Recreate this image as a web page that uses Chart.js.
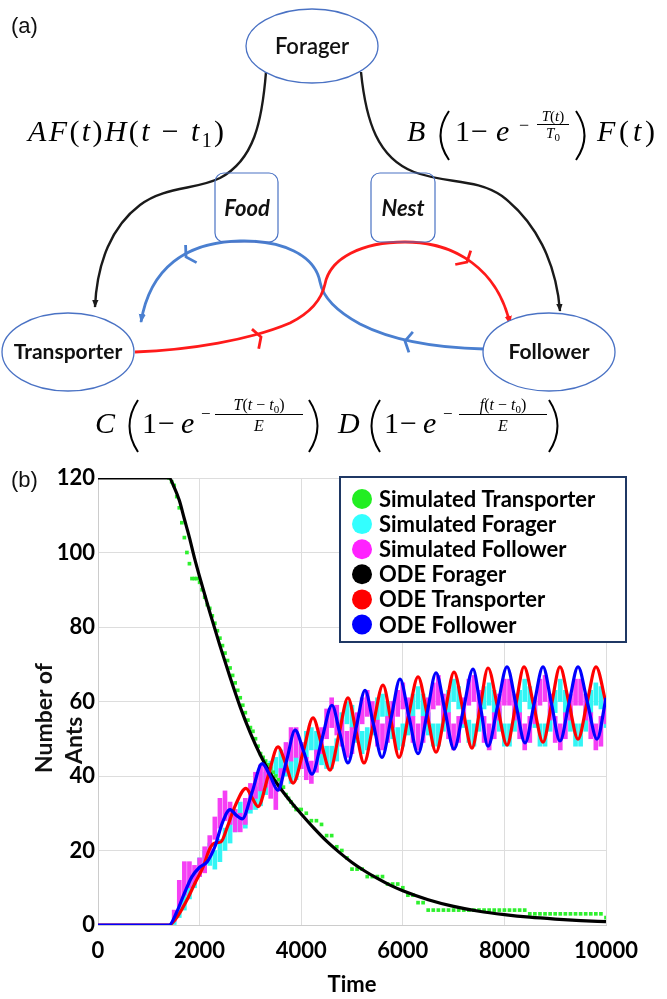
<!DOCTYPE html>
<html>
<head>
<meta charset="utf-8">
<title>Ant task model</title>
<script src="https://cdn.jsdelivr.net/npm/chart.js@4.4.1/dist/chart.umd.min.js"></script>
<style>
  html, body { margin: 0; padding: 0; background: #fff; }
  #page { position: relative; width: 667px; height: 999px; overflow: hidden; }
  #antChart { position: absolute; left: 0; top: 0; }
  #overlay { position: absolute; left: 0; top: 0; pointer-events: none; }
  .math { font-family: "Liberation Serif", "DejaVu Serif", serif; fill: #000; }
  .node { font-family: Lato, "Open Sans", sans-serif; fill: #111; }
  .lbl { font-family: Arial, "Liberation Sans", sans-serif; fill: #111; }
</style>
</head>
<body>
<div id="page">
<canvas id="antChart" width="667" height="999"></canvas>
<svg id="overlay" width="667" height="999" viewBox="0 0 667 999">
  <defs>
    <marker id="headK" viewBox="0 0 10 10" refX="9" refY="5" markerWidth="8" markerHeight="8" markerUnits="userSpaceOnUse" orient="auto"><path d="M0,1 L10,5 L0,9 z" fill="#1a1a1a"/></marker>
    <marker id="headB" viewBox="0 0 10 10" refX="9" refY="5" markerWidth="9" markerHeight="9" markerUnits="userSpaceOnUse" orient="auto"><path d="M0,1 L10,5 L0,9 z" fill="#4a7fd0"/></marker>
    <marker id="headR" viewBox="0 0 10 10" refX="9" refY="5" markerWidth="9" markerHeight="9" markerUnits="userSpaceOnUse" orient="auto"><path d="M0,1 L10,5 L0,9 z" fill="#ff1a1a"/></marker>
  </defs>

  <text class="lbl" x="11" y="33" font-size="22">(a)</text>
  <text class="lbl" x="11" y="487" font-size="22">(b)</text>

  <!-- transitions out of Forager -->
  <path d="M266,72 C262,122 254,160 220,178 C196,190 165,186 140,205 C112,226 97,262 95,307" fill="none" stroke="#1a1a1a" stroke-width="2.4" marker-end="url(#headK)"/>
  <path d="M361,72 C366,122 378,158 414,172 C446,184 476,178 502,196 C536,222 556,262 560,311" fill="none" stroke="#1a1a1a" stroke-width="2.4" marker-end="url(#headK)"/>

  <!-- Follower -> Transporter (blue), Transporter -> Follower (red) -->
  <path d="M484,349 C440,348 395,342 360,324 C338,312 323,298 320,282 C315,255 282,240 240,241 C186,242 150,268 141,322" fill="none" stroke="#4a7fd0" stroke-width="2.8" marker-end="url(#headB)"/>
  <path d="M135,352 C190,350 250,340 290,323 C312,312 322,298 325,284 C330,258 362,242 405,242 C456,242 498,270 510,324" fill="none" stroke="#ff1a1a" stroke-width="2.8" marker-end="url(#headR)"/>
  <g id="chevrons" fill="none" stroke-width="2.8"></g>

  <rect x="215" y="173" width="63" height="69" rx="9" fill="none" stroke="#4a72c4" stroke-width="1.2"/>
  <rect x="371" y="173" width="64" height="69" rx="9" fill="none" stroke="#4a72c4" stroke-width="1.2"/>
  <text class="node" x="247" y="216" text-anchor="middle" font-style="italic" font-weight="bold" font-size="22">Food</text>
  <text class="node" x="403" y="216" text-anchor="middle" font-style="italic" font-weight="bold" font-size="22">Nest</text>

  <ellipse cx="312" cy="46" rx="66" ry="37" fill="#fff" stroke="#4a72c4" stroke-width="1.3"/>
  <text class="node" x="312" y="54" text-anchor="middle" font-size="22" font-weight="600">Forager</text>
  <ellipse cx="68" cy="352" rx="66" ry="39" fill="#fff" stroke="#4a72c4" stroke-width="1.3"/>
  <text class="node" x="68" y="359" text-anchor="middle" font-weight="bold" font-size="21">Transporter</text>
  <ellipse cx="549" cy="352" rx="66" ry="39" fill="#fff" stroke="#4a72c4" stroke-width="1.3"/>
  <text class="node" x="549" y="359" text-anchor="middle" font-weight="bold" font-size="21">Follower</text>

  <!-- rate expressions -->
  <text class="math" x="28" y="141" font-size="30" textLength="196" lengthAdjust="spacing"><tspan font-style="italic">AF</tspan>(<tspan font-style="italic">t</tspan>)<tspan font-style="italic">H</tspan>(<tspan font-style="italic">t</tspan> − <tspan font-style="italic">t</tspan><tspan font-size="20" dy="6">1</tspan><tspan dy="-6">)</tspan></text>

  <g fill="none" stroke="#000" stroke-width="2">
    <path d="M449,111 Q432,135.5 449,160"/>
    <path d="M576,111 Q593,135.5 576,160"/>
    <path d="M138,400 Q121,426 138,452"/>
    <path d="M309,400 Q326,426 309,452"/>
    <path d="M380,400 Q363,426 380,452"/>
    <path d="M549,400 Q566,426 549,452"/>
  </g>
  <g stroke="#000" stroke-width="1">
    <line x1="537" y1="124.5" x2="569" y2="124.5"/>
    <line x1="215" y1="414.5" x2="303" y2="414.5"/>
    <line x1="459" y1="414.5" x2="547" y2="414.5"/>
  </g>

  <text class="math" x="407" y="141" font-size="30" font-style="italic">B</text>
  <text class="math" x="455" y="141" font-size="30">1</text>
  <text class="math" x="471" y="141" font-size="30">−</text>
  <text class="math" x="496" y="141" font-size="30" font-style="italic">e</text>
  <text class="math" x="519" y="131" font-size="18">−</text>
  <text class="math" x="553" y="121" font-size="15" text-anchor="middle"><tspan font-style="italic">T</tspan>(<tspan font-style="italic">t</tspan>)</text>
  <text class="math" x="553" y="138" font-size="15" text-anchor="middle"><tspan font-style="italic">T</tspan><tspan font-size="11" dy="3">0</tspan></text>
  <text class="math" x="597" y="141" font-size="30" textLength="58" lengthAdjust="spacing"><tspan font-style="italic">F</tspan>(<tspan font-style="italic">t</tspan>)</text>

  <text class="math" x="95" y="433" font-size="30" font-style="italic">C</text>
  <text class="math" x="142" y="433" font-size="30">1</text>
  <text class="math" x="158" y="433" font-size="30">−</text>
  <text class="math" x="181" y="433" font-size="30" font-style="italic">e</text>
  <text class="math" x="201" y="419" font-size="17">−</text>
  <text class="math" x="259" y="410" font-size="16" text-anchor="middle"><tspan font-style="italic">T</tspan>(<tspan font-style="italic">t</tspan> − <tspan font-style="italic">t</tspan><tspan font-size="11" dy="3">0</tspan><tspan dy="-3">)</tspan></text>
  <text class="math" x="259" y="431" font-size="16" text-anchor="middle" font-style="italic">E</text>

  <text class="math" x="338" y="433" font-size="30" font-style="italic">D</text>
  <text class="math" x="384" y="433" font-size="30">1</text>
  <text class="math" x="400" y="433" font-size="30">−</text>
  <text class="math" x="423" y="433" font-size="30" font-style="italic">e</text>
  <text class="math" x="443" y="419" font-size="17">−</text>
  <text class="math" x="503" y="410" font-size="16" text-anchor="middle"><tspan font-style="italic">f</tspan>(<tspan font-style="italic">t</tspan> − <tspan font-style="italic">t</tspan><tspan font-size="11" dy="3">0</tspan><tspan dy="-3">)</tspan></text>
  <text class="math" x="503" y="431" font-size="16" text-anchor="middle" font-style="italic">E</text>

  <!-- y axis title of panel (b) -->
  <text class="node" transform="translate(52,773) rotate(-90)" font-weight="bold" font-size="23" fill="#000">Number of</text>
  <text class="node" transform="translate(82,764) rotate(-90)" font-weight="bold" font-size="23" fill="#000">Ants</text>
</svg>
</div>

<script>
// ---- values ----
const xTickValues = [0, 2000, 4000, 6000, 8000, 10000];
const yTickValues = [0, 20, 40, 60, 80, 100, 120];

// ODE curves
const odeForagerTime = [0, 1400, 1500, 1600, 1700, 1800, 1900, 2000, 2200, 2400, 2600, 2800, 3000, 3200, 3400, 3600, 3800, 4000,
  4250, 4500, 4750, 5000, 5250, 5500, 5750, 6000, 6500, 7000, 7500, 8000, 8500, 9000, 9500, 10000];
const odeForager = [120, 120, 117.5, 114, 109, 104, 98.5, 93.5, 84, 75, 66.5, 58.5, 51.5, 45.5, 40.5, 36.5, 33, 29.8,
  26, 22.5, 19.5, 16.8, 14.5, 12.5, 10.7, 9.2, 6.8, 5, 3.7, 2.8, 2.1, 1.6, 1.2, 0.9];

const odeTransporterTime = [0, 1400, 1550, 1750, 1900, 2070, 2200, 2300, 2420, 2550, 2700, 2913, 3040, 3150, 3350, 3543, 3690, 3839,
  4040, 4232, 4400, 4567, 4740, 4921, 5080, 5236, 5420, 5610, 5770, 5925, 6110, 6300, 6480, 6654, 6830, 7008, 7185, 7362,
  7520, 7677, 7865, 8051, 8220, 8386, 8573, 8760, 8927, 9094, 9270, 9449, 9626, 9803, 10000];
const odeTransporter = [0, 0, 2, 6.7, 11, 15.6, 20.5, 22, 22.3, 26.5, 32, 36.7, 34, 31.8, 40, 47.8, 43.5, 38.1,
  46.5, 55.6, 48.5, 41.6, 51, 61, 52, 43.5, 54, 64.4, 54.7, 45, 56, 66.6, 56.5, 46.4, 57, 67.9, 57.7, 47.5,
  58.2, 69, 58.6, 48.3, 58.8, 69.3, 59.2, 49.1, 59.2, 69.3, 59.6, 49.9, 59.6, 69.3, 59.6];

const odeFollowerTime = [0, 1400, 1550, 1700, 1850, 2000, 2150, 2300, 2450, 2600, 2720, 2840, 3030, 3230, 3390, 3540, 3710, 3880,
  4050, 4213, 4410, 4606, 4760, 4921, 5090, 5256, 5420, 5590, 5770, 5945, 6120, 6300, 6480, 6654, 6830, 7008, 7195, 7382,
  7530, 7677, 7865, 8051, 8230, 8406, 8583, 8760, 8927, 9094, 9270, 9449, 9636, 9823, 10000];
const odeFollower = [0, 0, 3.5, 8.5, 13, 15.5, 17, 21, 27.5, 31, 29.5, 28.5, 35.5, 43.3, 40, 36.2, 44, 52.3,
  46.5, 40.5, 50, 59, 51.5, 43.5, 53.5, 63, 54, 45, 55.5, 66, 56, 46, 57, 67.7, 57.5, 47.2, 58, 68.7,
  58.5, 48, 58.7, 69.3, 59, 48.9, 59.2, 69.3, 59.4, 49.4, 59.4, 69.3, 59.6, 49.9, 61];

// simulated transporters (dots)
const simTransporterTime = [1400, 1450, 1500, 1550, 1600, 1650, 1700, 1750, 1800, 1850, 1900, 1950,
  2000, 2050, 2100, 2150, 2200, 2250, 2300, 2350, 2400, 2450, 2500, 2550, 2600, 2650, 2700, 2750, 2800, 2850, 2900, 2950,
  3000, 3050, 3100, 3150, 3200, 3250, 3300, 3350, 3400, 3450, 3500, 3550, 3600, 3650, 3700, 3750, 3800, 3850, 3900, 3950,
  4000, 4100, 4200, 4300, 4400, 4500, 4600, 4700, 4800, 4900,
  5000, 5100, 5200, 5300, 5400, 5500, 5600, 5700, 5800, 5900,
  6000, 6100, 6200, 6300, 6400, 6500, 6600, 6700, 6800, 6900,
  7000, 7100, 7200, 7300, 7400, 7500, 7600, 7700, 7800, 7900,
  8000, 8100, 8200, 8300, 8400, 8500, 8600, 8700, 8800, 8900,
  9000, 9100, 9200, 9300, 9400, 9500, 9600, 9700, 9800, 9900, 10000];
const simTransporter = [120, 119, 118, 115, 112, 108, 104, 100, 97, 93, 93, 93,
  92, 90, 88, 86, 85, 83, 81, 79, 77, 75, 73, 71, 69, 67, 65, 63, 61, 59, 57, 55,
  53, 52, 50, 48, 46, 45, 44, 43, 42, 41, 40, 39, 38, 37, 35, 34, 33, 32, 31, 31,
  31, 30, 28, 28, 27, 24, 24, 21, 20, 18,
  15, 15, 15, 13, 13, 13, 13, 11, 11, 11,
  10, 8, 8, 6, 6, 4, 4, 4, 4, 4,
  4, 4, 4, 4, 4, 4, 4, 4, 4, 4,
  4, 4, 4, 4, 4, 3, 3, 3, 3, 3,
  3, 3, 3, 3, 3, 3, 3, 3, 3, 3, 2];

// simulated foragers / followers: spread of the dots in each time column
const simColumnTime = [1500, 1600, 1700, 1800, 1900,
  2000, 2100, 2200, 2300, 2400, 2500, 2600, 2700, 2800, 2900,
  3000, 3100, 3200, 3300, 3400, 3500, 3600, 3700, 3800, 3900,
  4000, 4100, 4200, 4300, 4400, 4500, 4600, 4700, 4800, 4900,
  5000, 5100, 5200, 5300, 5400, 5500, 5600, 5700, 5800, 5900,
  6000, 6100, 6200, 6300, 6400, 6500, 6600, 6700, 6800, 6900,
  7000, 7100, 7200, 7300, 7400, 7500, 7600, 7700, 7800, 7900,
  8000, 8100, 8200, 8300, 8400, 8500, 8600, 8700, 8800, 8900,
  9000, 9100, 9200, 9300, 9400, 9500, 9600, 9700, 9800, 9900, 10000];
const simForagerLow = [0, 2, 4, 7, 10,
  13, 15, 16, 15, 17, 20, 22, 25, 27, 26,
  30, 31, 32, 35, 38, 40, 41, 40, 38, 39,
  42, 45, 47, 46, 43, 42, 42, 44, 51, 54,
  53, 49, 46, 47, 51, 55, 56, 54, 50, 47,
  48, 51, 56, 58, 56, 51, 48, 48, 52, 57,
  60, 58, 53, 49, 48, 52, 58, 59, 57, 52,
  48, 48, 52, 57, 60, 58, 53, 48, 48, 52,
  57, 60, 57, 52, 48, 48, 52, 57, 59, 58, 53];
const simForagerHigh = [3, 7, 9, 12, 14,
  18, 20, 22, 20, 23, 26, 29, 31, 33, 33,
  36, 37, 38, 41, 44, 45, 47, 46, 44, 45,
  49, 52, 53, 52, 49, 48, 48, 50, 57, 60,
  59, 55, 52, 53, 57, 61, 62, 60, 56, 53,
  54, 57, 62, 64, 62, 57, 54, 54, 58, 63,
  66, 64, 59, 55, 54, 58, 64, 65, 63, 58,
  54, 54, 58, 63, 66, 64, 59, 54, 54, 58,
  63, 66, 63, 58, 54, 54, 58, 63, 65, 64, 59];
const simFollowerLow = [1, 5, 8, 10, 11,
  13, 14, 19, 23, 26, 28, 27, 25, 25, 27,
  31, 34, 36, 37, 34, 31, 36, 41, 44, 45,
  42, 39, 38, 41, 46, 50, 53, 51, 48, 45,
  46, 50, 54, 56, 53, 48, 47, 49, 53, 56,
  58, 54, 49, 47, 49, 54, 58, 59, 55, 50,
  47, 49, 54, 59, 60, 56, 49, 47, 50, 55,
  59, 59, 55, 50, 47, 49, 54, 59, 60, 55,
  49, 47, 50, 55, 59, 59, 55, 50, 47, 48, 54];
const simFollowerHigh = [4, 12, 17, 17, 16,
  18, 21, 24, 29, 34, 36, 33, 31, 30, 34,
  38, 41, 43, 43, 41, 37, 42, 49, 53, 53,
  49, 45, 44, 47, 53, 58, 61, 59, 55, 52,
  53, 57, 61, 63, 60, 55, 54, 56, 60, 63,
  65, 61, 56, 54, 56, 61, 65, 67, 62, 57,
  54, 56, 61, 66, 67, 63, 56, 54, 57, 62,
  66, 66, 62, 57, 54, 56, 61, 66, 67, 62,
  56, 54, 57, 62, 66, 66, 62, 57, 54, 56, 61];

// ---- small flow marks on the loop arrows of panel (a) ----
function addChevron(x, y, angleDeg, color) {
  const g = document.getElementById('chevrons');
  const a = angleDeg * Math.PI / 180;
  const len = 12, spread = 60 * Math.PI / 180;
  const p1 = [x + len * Math.cos(a + Math.PI - spread), y + len * Math.sin(a + Math.PI - spread)];
  const p2 = [x + len * Math.cos(a + Math.PI + spread), y + len * Math.sin(a + Math.PI + spread)];
  const path = document.createElementNS('http://www.w3.org/2000/svg', 'path');
  path.setAttribute('d', 'M' + p1[0] + ',' + p1[1] + ' L' + x + ',' + y + ' L' + p2[0] + ',' + p2[1]);
  path.setAttribute('stroke', color);
  g.appendChild(path);
}
addChevron(405, 341, 191, '#4a7fd0');
addChevron(186, 257, 148, '#4a7fd0');
addChevron(261, 337, -19, '#ff1a1a');
addChevron(467, 262, 48, '#ff1a1a');

// ---- chart ----
const toPoints = (xs, ys) => xs.map((x, i) => ({ x: x, y: ys[i] }));
const toRanges = (xs, lo, hi) => xs.map((x, i) => ({ x: x, y: [lo[i], hi[i]] }));

const tickFont = { family: 'Lato', weight: 'bold', size: 22 };

// legend drawn as a framed box inside the plot, like the figure
const boxLegend = {
  id: 'boxLegend',
  afterDraw(chart) {
    const ctx = chart.ctx;
    const area = chart.chartArea;
    const left = area.left + 242, top = area.top - 1, width = 286, height = 165;
    ctx.save();
    ctx.fillStyle = '#fff';
    ctx.fillRect(left, top, width, height);
    ctx.strokeStyle = '#1f3864';
    ctx.lineWidth = 2;
    ctx.strokeRect(left, top, width, height);
    ctx.font = 'bold 22px Lato';
    ctx.textBaseline = 'middle';
    ctx.textAlign = 'left';
    chart.data.datasets.forEach((ds, i) => {
      const y = top + 22 + i * 25.1;
      ctx.beginPath();
      ctx.arc(left + 22, y, 10, 0, Math.PI * 2);
      ctx.fillStyle = ds.markerColor;
      ctx.fill();
      ctx.fillStyle = '#000';
      ctx.fillText(ds.label, left + 39, y + 1);
    });
    ctx.restore();
  }
};

new Chart(document.getElementById('antChart').getContext('2d'), {
  type: 'line',
  data: {
    datasets: [
      {
        label: 'Simulated Transporter',
        data: toPoints(simTransporterTime, simTransporter),
        showLine: false,
        pointStyle: 'rect',
        pointRadius: 2.6,
        pointBorderWidth: 0,
        pointBackgroundColor: '#2ef02e',
        backgroundColor: '#2ef02e',
        markerColor: '#22ee22',
        order: 4
      },
      {
        label: 'Simulated Forager',
        type: 'bar',
        data: toRanges(simColumnTime, simForagerLow, simForagerHigh),
        backgroundColor: '#33f5f5',
        barThickness: 4,
        grouped: false,
        borderWidth: 0,
        markerColor: '#33ffff',
        order: 6
      },
      {
        label: 'Simulated Follower',
        type: 'bar',
        data: toRanges(simColumnTime, simFollowerLow, simFollowerHigh),
        backgroundColor: '#f53ff5',
        barThickness: 4,
        grouped: false,
        borderWidth: 0,
        markerColor: '#ff22ff',
        order: 5
      },
      {
        label: 'ODE Forager',
        data: toPoints(odeForagerTime, odeForager),
        borderColor: '#000',
        borderWidth: 3.2,
        pointRadius: 0,
        cubicInterpolationMode: 'monotone',
        markerColor: '#000',
        order: 3
      },
      {
        label: 'ODE Transporter',
        data: toPoints(odeTransporterTime, odeTransporter),
        borderColor: '#ff0000',
        borderWidth: 3.2,
        pointRadius: 0,
        cubicInterpolationMode: 'monotone',
        markerColor: '#ff0000',
        order: 2
      },
      {
        label: 'ODE Follower',
        data: toPoints(odeFollowerTime, odeFollower),
        borderColor: '#0000ff',
        borderWidth: 3.2,
        pointRadius: 0,
        cubicInterpolationMode: 'monotone',
        markerColor: '#0000ff',
        order: 1
      }
    ]
  },
  options: {
    responsive: false,
    animation: false,
    events: [],
    layout: { padding: { top: 478, right: 61, bottom: 0, left: 0 } },
    plugins: {
      legend: { display: false },
      tooltip: { enabled: false }
    },
    scales: {
      x: {
        type: 'linear',
        min: 0,
        max: 10000,
        offset: false,
        grid: { color: '#dddddd', drawTicks: false, offset: false },
        border: { color: '#cccccc' },
        ticks: { color: '#000', font: tickFont, padding: 13, maxRotation: 0, autoSkip: false, callback: v => String(v) },
        title: { display: true, text: 'Time', color: '#000', font: tickFont, padding: { top: 0, bottom: 1 } },
        afterBuildTicks: scale => { scale.ticks = xTickValues.map(v => ({ value: v })); },
        afterFit: scale => { scale.height = 74; }
      },
      y: {
        min: 0,
        max: 120,
        grid: { color: '#dddddd', drawTicks: false },
        border: { color: '#cccccc' },
        ticks: { color: '#000', font: tickFont, padding: 3, callback: v => String(v) },
        afterBuildTicks: scale => { scale.ticks = yTickValues.map(v => ({ value: v })); },
        afterFit: scale => { scale.width = 98; }
      }
    }
  },
  plugins: [boxLegend]
});
</script>
</body>
</html>
